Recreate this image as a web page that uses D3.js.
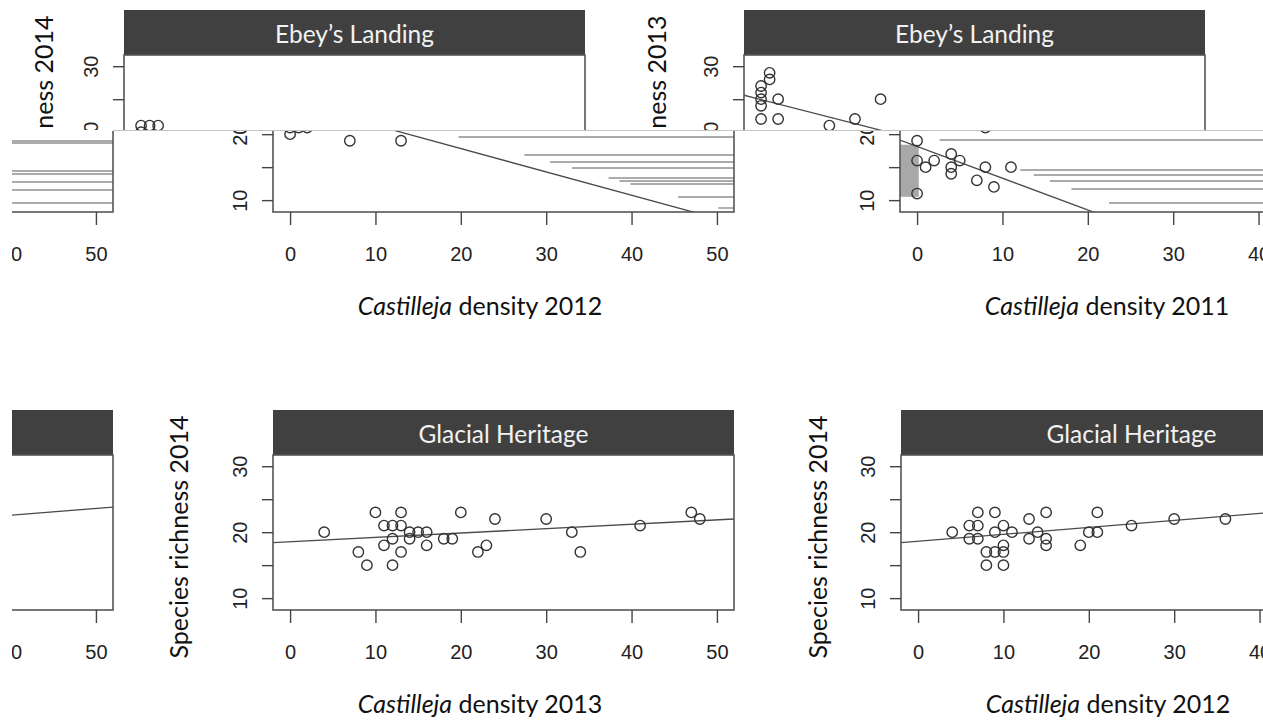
<!DOCTYPE html>
<html>
<head>
<meta charset="utf-8">
<script src="https://cdn.jsdelivr.net/npm/d3@7"></script>
<style>
body { margin: 0; background: #fff; }
svg { display: block; }
</style>
</head>
<body>
<div id="chart"></div>
<script>
// shared axis values
var xTicks = [0, 10, 20, 30, 40, 50];
var yTicks = [10, 15, 20, 25, 30];
var yTickLabels = [10, 20, 30];

// Ebey's Landing, Castilleja density 2012 vs species richness 2014
var ebey12Density = [0, 1, 2, 0, 7, 13];
var ebey12Richness = [21, 21, 21, 20, 19, 19];
var ebey12Fit = [[-2, 25.6], [52, 6.5]];

// Ebey's Landing, Castilleja density 2011 vs species richness 2013
var ebey11Density = [0, 0, 0, 0, 0, 1, 1, 2, 2, 8, 11, 14, 0, 0, 0, 1, 2, 4, 4, 4, 5, 7, 8, 9, 11];
var ebey11Richness = [27, 26, 25, 24, 22, 29, 28, 25, 22, 21, 22, 25, 19, 16, 11, 15, 16, 17, 15, 14, 16, 13, 15, 12, 15];
var ebey11FitUpper = [[-2, 25.6], [52, 7.7]];
var ebey11FitLower = [[-2, 19.1], [52, -6.9]];

// Glacial Heritage, density 2013 vs richness 2014
var glac13Density = [4, 8, 9, 10, 11, 11, 12, 12, 12, 13, 13, 13, 14, 14, 15, 16, 16, 18, 19, 20, 22, 23, 24, 30, 33, 34, 41, 47, 48];
var glac13Richness = [20, 17, 15, 23, 21, 18, 21, 19, 15, 23, 21, 17, 20, 19, 20, 20, 18, 19, 19, 23, 17, 18, 22, 22, 20, 17, 21, 23, 22];
var glac13Fit = [[-2, 18.4], [52, 22.0]];

// Glacial Heritage, density 2012 vs richness 2014
var glac12Density = [4, 6, 7, 7, 6, 7, 8, 8, 9, 9, 9, 10, 10, 10, 10, 11, 13, 13, 14, 15, 15, 15, 19, 20, 21, 21, 25, 30, 36];
var glac12Richness = [20, 21, 23, 21, 19, 19, 17, 15, 23, 20, 17, 21, 18, 17, 15, 20, 22, 19, 20, 23, 19, 18, 18, 20, 23, 20, 21, 22, 22];
var glac12Fit = [[-2, 18.4], [52, 24.1]];

// panel cut off on the left edge
var leftFit = [[-2, 18.3], [52, 23.8]];

// smeared rows of the broken strip (pixel rows)
var streaksLeft = [141, 143, 171, 174, 182, 190, 203];
var streaksMid = [137, 155, 162, 168, 178, 181, 184, 197, 208];
var streaksRight = [140, 170, 175, 181, 189, 203];

var W = 1263, H = 723;
var panelW = 461, headH = 45, plotH = 155;
var xDomain = [-2, 52], yDomain = [8.2, 31.7];
var sans = "'Liberation Sans', Arial, sans-serif";
var label = "Lato, 'Open Sans', sans-serif";

var svg = d3.select("#chart").append("svg")
    .attr("width", W)
    .attr("height", H);
var defs = svg.append("defs");

// visible window of each clip, used to skip texts that would be hidden anyway
var clips = {
    full: [0, 0, W, H],
    fullLeft: [12, 0, W, H],
    upper: [0, 0, W, 130],
    lower: [0, 131, W, H],
    lowerLeft: [12, 131, W, H]
};
Object.keys(clips).forEach(function (id) {
    var c = clips[id];
    defs.append("clipPath").attr("id", id).append("rect")
        .attr("x", c[0]).attr("y", c[1]).attr("width", c[2] - c[0]).attr("height", c[3] - c[1]);
});

var panelCount = 0;

function panel(o) {
    var win = clips[o.clip];
    var outer = svg.append("g").attr("clip-path", "url(#" + o.clip + ")");
    var dy = o.dy || 0;
    var g = outer.append("g").attr("transform", "translate(0," + dy + ")");
    var plotTop = o.top + headH, plotBottom = plotTop + plotH;

    var x = d3.scaleLinear().domain(xDomain).range([o.left, o.left + panelW]);
    var y = d3.scaleLinear().domain(yDomain).range([plotBottom, plotTop]);

    // header strip
    g.append("rect")
        .attr("x", o.left).attr("y", o.top)
        .attr("width", panelW).attr("height", headH)
        .attr("fill", "#404040");
    if (o.title) {
        g.append("text")
            .attr("x", o.left + panelW / 2)
            .attr("y", o.top + 33)
            .attr("text-anchor", "middle")
            .attr("font-family", label)
            .attr("font-size", 24.5)
            .attr("fill", "#f2f2f2")
            .text(o.title);
    }

    var clipId = "plot" + (panelCount++);
    defs.append("clipPath").attr("id", clipId).append("rect")
        .attr("x", o.left).attr("y", plotTop)
        .attr("width", panelW).attr("height", plotH);
    var plot = g.append("g").attr("clip-path", "url(#" + clipId + ")");

    if (o.smear) {
        plot.append("rect")
            .attr("x", x(o.smear[0])).attr("y", y(o.smear[3]))
            .attr("width", x(o.smear[1]) - x(o.smear[0]))
            .attr("height", y(o.smear[2]) - y(o.smear[3]))
            .attr("fill", "#a8a8a8");
    }

    // horizontal smears: each starts a little right of where the fit line crosses that row
    if (o.streaks && o.fit) {
        var f = o.fit;
        var slope = (f[1][1] - f[0][1]) / (f[1][0] - f[0][0]);
        plot.selectAll(".streak")
            .data(o.streaks)
            .enter().append("line")
            .attr("class", "streak")
            .attr("x1", function (d) {
                var v = y.invert(d - dy);
                var cross = f[0][0] + (v - f[0][1]) / slope;
                return Math.max(o.left, x(cross) + 40);
            })
            .attr("x2", o.left + panelW)
            .attr("y1", function (d) { return d - dy; })
            .attr("y2", function (d) { return d - dy; })
            .attr("stroke", "#8f8f8f")
            .attr("stroke-width", 1.4);
    }

    if (o.fit) {
        plot.append("path")
            .datum(o.fit)
            .attr("d", d3.line()
                .x(function (d) { return x(d[0]); })
                .y(function (d) { return y(d[1]); }))
            .attr("fill", "none")
            .attr("stroke", "#4a4a4a")
            .attr("stroke-width", 1.3);
    }

    if (o.xs) {
        plot.selectAll("circle")
            .data(d3.zip(o.xs, o.ys))
            .enter().append("circle")
            .attr("cx", function (d) { return x(d[0]); })
            .attr("cy", function (d) { return y(d[1]); })
            .attr("r", 5.2)
            .attr("fill", "none")
            .attr("stroke", "#333")
            .attr("stroke-width", 1.4);
    }

    // box
    g.append("rect")
        .attr("x", o.left).attr("y", plotTop)
        .attr("width", panelW).attr("height", plotH)
        .attr("fill", "none")
        .attr("stroke", "#555")
        .attr("stroke-width", 1.6);

    // x axis only where it can be seen
    if (plotBottom + dy > win[1] && plotBottom + dy < win[3]) {
        var xs = xTicks.filter(function (t) { return x(t) > win[0] - 8 && x(t) < W + 8; });
        var xAxis = g.append("g")
            .attr("transform", "translate(0," + plotBottom + ")")
            .call(d3.axisBottom(x).tickValues(xs).tickSize(13).tickPadding(22).tickSizeOuter(0));
        xAxis.select(".domain").remove();
        xAxis.selectAll("line").attr("stroke", "#444").attr("stroke-width", 1.4);
        xAxis.selectAll("text")
            .attr("font-family", sans)
            .attr("font-size", 20)
            .attr("fill", "#222");
    }

    if (o.left > win[0]) {
        var ys = yTicks.filter(function (t) {
            return y(t) + dy > win[1] - 12 && y(t) + dy < win[3] + 12;
        });
        var yAxis = g.append("g")
            .attr("transform", "translate(" + o.left + ",0)")
            .call(d3.axisLeft(y).tickValues(ys).tickSize(11).tickSizeOuter(0)
                .tickFormat(function (d) { return yTickLabels.indexOf(d) >= 0 ? d : ""; }));
        yAxis.select(".domain").remove();
        yAxis.selectAll("line").attr("stroke", "#444").attr("stroke-width", 1.4);
        yAxis.selectAll("text")
            .attr("x", null)
            .attr("dy", null)
            .attr("transform", "translate(-26,0) rotate(-90)")
            .attr("text-anchor", "middle")
            .attr("font-family", sans)
            .attr("font-size", 20)
            .attr("fill", "#222");
    }

    if (o.yTitle) {
        g.append("text")
            .attr("transform", "translate(" + (o.left + o.yTitleDx) + "," + (plotTop + 82) + ") rotate(-90)")
            .attr("text-anchor", "middle")
            .attr("font-family", label)
            .attr("font-size", 25)
            .attr("fill", "#111")
            .text(o.yTitle);
    }

    if (o.xYear) {
        var t = g.append("text")
            .attr("x", o.left + 207)
            .attr("y", plotBottom + 103)
            .attr("text-anchor", "middle")
            .attr("font-family", label)
            .attr("font-size", 25)
            .attr("fill", "#111");
        t.append("tspan").attr("font-style", "italic").text("Castilleja");
        t.append("tspan").text(" density " + o.xYear);
    }
}

// ---- top row, upper half (original position)
panel({ left: 124, top: 10, clip: "upper", title: "Ebey\u2019s Landing",
    xs: ebey12Density, ys: ebey12Richness,
    yTitle: "Species richness 2014", yTitleDx: -71 });
panel({ left: 744, top: 10, clip: "upper", title: "Ebey\u2019s Landing",
    xs: ebey11Density, ys: ebey11Richness, fit: ebey11FitUpper,
    yTitle: "Species richness 2013", yTitleDx: -78 });

// ---- top row, lower half (shifted strip)
panel({ left: 113 - panelW, top: 10, dy: 2, clip: "lowerLeft",
    fit: leftFit, streaks: streaksLeft });
panel({ left: 273, top: 10, dy: 2, clip: "lower",
    xs: ebey12Density, ys: ebey12Richness, fit: ebey12Fit,
    streaks: streaksMid, xYear: 2012 });
panel({ left: 900, top: 10, dy: 2, clip: "lower",
    xs: ebey11Density, ys: ebey11Richness, fit: ebey11FitLower,
    streaks: streaksRight, smear: [-2, 0.2, 10.5, 18.4], xYear: 2011 });

// seam of the broken strip
svg.append("line")
    .attr("x1", 113).attr("x2", W)
    .attr("y1", 130.5).attr("y2", 130.5)
    .attr("stroke", "#c4c4c4")
    .attr("stroke-width", 1.2);

// ---- bottom row
panel({ left: 113 - panelW, top: 410, clip: "fullLeft", fit: leftFit });
panel({ left: 273, top: 410, clip: "full", title: "Glacial Heritage",
    xs: glac13Density, ys: glac13Richness, fit: glac13Fit,
    yTitle: "Species richness 2014", yTitleDx: -85, xYear: 2013 });
panel({ left: 901, top: 410, clip: "full", title: "Glacial Heritage",
    xs: glac12Density, ys: glac12Richness, fit: glac12Fit,
    yTitle: "Species richness 2014", yTitleDx: -74, xYear: 2012 });
</script>
</body>
</html>
